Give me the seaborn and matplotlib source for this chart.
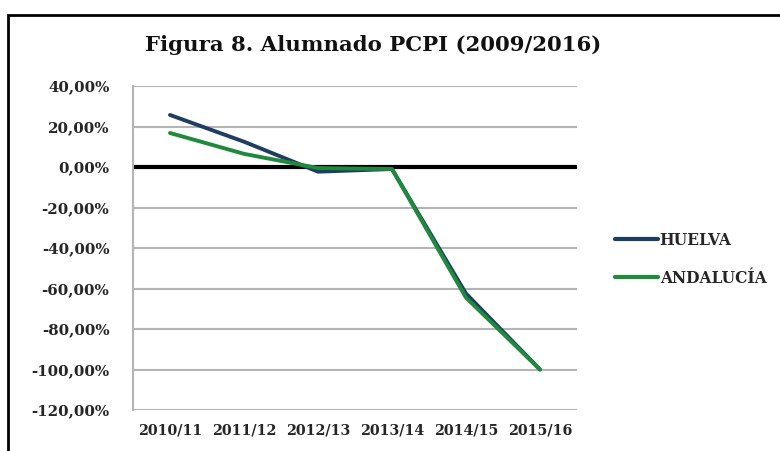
import pandas as pd
import seaborn as sns
import matplotlib.pyplot as plt
from matplotlib.patches import Rectangle
from matplotlib.lines import Line2D

cursos = ['2010/11', '2011/12', '2012/13', '2013/14', '2014/15', '2015/16']
huelva = [25.7, 12.5, -2.3, -1.0, -62.5, -100.0]
andalucia = [16.8, 6.5, -0.5, -1.0, -64.5, -100.0]
yticks = [40, 20, 0, -20, -40, -60, -80, -100, -120]

df = pd.DataFrame({
    'curso': cursos * 2,
    'valor': huelva + andalucia,
    'serie': ['HUELVA'] * len(cursos) + ['ANDALUCÍA'] * len(cursos),
})

sns.set_style('white')
plt.rcParams['font.family'] = ['DejaVu Serif']
colores = {'HUELVA': '#1f3d63', 'ANDALUCÍA': '#1f8a3b'}

fig = plt.figure(figsize=(7.8, 4.51), dpi=100)
ax = fig.add_axes([0.1705, 0.0909, 0.5692, 0.7184])

for y in yticks:
    ax.axhline(y, color='#b4b4b4', lw=1.5, zorder=0)
ax.axhline(0, color='black', lw=3, zorder=1)

sns.lineplot(data=df, x='curso', y='valor', hue='serie', palette=colores,
             linewidth=2.8, ax=ax, legend=False, sort=False, zorder=3)

ax.set_xlim(-0.5, 5.5)
ax.set_ylim(-120, 40)
ax.set_yticks(yticks)
ax.set_yticklabels([f'{v},00%' for v in yticks])
ax.set_xlabel('')
ax.set_ylabel('')
for s in ['top', 'right', 'bottom']:
    ax.spines[s].set_visible(False)
ax.spines['left'].set_color('#b4b4b4')
ax.spines['left'].set_linewidth(1.5)
ax.tick_params(length=0, labelcolor='#262626')
ax.tick_params(axis='y', pad=17)
ax.tick_params(axis='x', pad=10)
for lab in ax.get_yticklabels():
    lab.set_fontweight('bold')
    lab.set_fontsize(10.8)
for lab in ax.get_xticklabels():
    lab.set_fontweight('bold')
    lab.set_fontsize(10.3)

fig.text(0.478, 0.90, 'Figura 8. Alumnado PCPI (2009/2016)', ha='center', va='center',
         fontsize=15.3, fontweight='bold', color='#111111')

handles = [Line2D([0], [0], color=colores[k], lw=3) for k in ['HUELVA', 'ANDALUCÍA']]
leg = fig.legend(handles, ['HUELVA', 'ANDALUCÍA'], loc='center left',
                 bbox_to_anchor=(0.77, 0.425), frameon=False, handlelength=2.8,
                 handletextpad=0.1, labelspacing=1.35,
                 prop={'weight': 'bold', 'size': 11.2})
for t in leg.get_texts():
    t.set_color('#262626')

fig.patches.append(Rectangle((8 / 780, -0.2), 1.2, 1.2 - 15 / 451,
                             transform=fig.transFigure, fill=False,
                             edgecolor='black', lw=2))

fig.savefig('out.png', dpi=100, facecolor='white')
